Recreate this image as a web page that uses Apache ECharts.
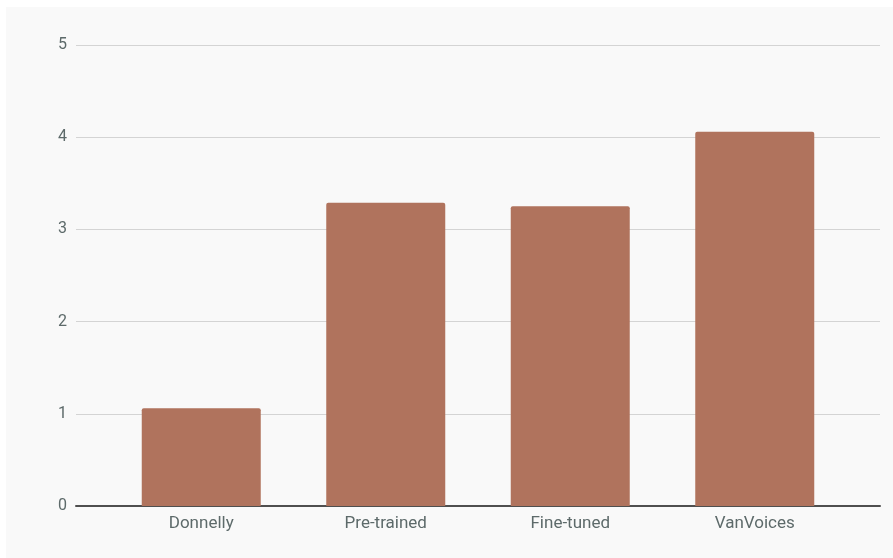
<!DOCTYPE html>
<html>
<head>
<meta charset="utf-8">
<script src="https://cdn.jsdelivr.net/npm/echarts@6/dist/echarts.min.js"></script>
<style>
html, body { margin: 0; padding: 0; background: #ffffff; }
#chart { position: absolute; left: 6px; top: 7px; width: 887px; height: 551px; }
</style>
</head>
<body>
<div id="chart"></div>
<script>
const categories = ["Donnelly", "Pre-trained", "Fine-tuned", "VanVoices"];
const scores = [1.06, 3.29, 3.25, 4.06];
const yTicks = [0, 1, 2, 3, 4, 5];

const labelColor = '#5d6a6a';
const chart = echarts.init(document.getElementById('chart'));
chart.setOption({
  backgroundColor: '#f9f9f9',
  animation: false,
  grid: [
    { left: 70, right: 13, top: 38, bottom: 52 },
    { left: 103, right: 46, top: 38, bottom: 52 }
  ],
  xAxis: [
    {
      gridIndex: 0, type: 'value', min: 0, max: 1,
      axisLine: { show: true, onZero: false, lineStyle: { color: '#4f4f4f', width: 2 } },
      axisTick: { show: false }, axisLabel: { show: false }, splitLine: { show: false }
    },
    {
      gridIndex: 1, type: 'category', data: categories,
      axisLine: { show: false }, axisTick: { show: false },
      axisLabel: { color: labelColor, fontSize: 17, fontFamily: 'Roboto', margin: 9 }
    }
  ],
  yAxis: [
    {
      gridIndex: 0, type: 'value', min: yTicks[0], max: yTicks[yTicks.length - 1], interval: 1,
      axisLine: { show: false }, axisTick: { show: false },
      axisLabel: { color: labelColor, fontSize: 16, fontFamily: 'Roboto', margin: 9 },
      splitLine: { lineStyle: { color: '#d4d4d4', width: 1 } }
    },
    {
      gridIndex: 1, type: 'value', min: yTicks[0], max: yTicks[yTicks.length - 1],
      show: false, splitLine: { show: false }
    }
  ],
  series: [
    {
      type: 'bar', xAxisIndex: 1, yAxisIndex: 1, data: scores,
      barWidth: 119,
      itemStyle: { color: '#b0735d', borderRadius: [2, 2, 0, 0] }
    }
  ]
});
</script>
</body>
</html>
